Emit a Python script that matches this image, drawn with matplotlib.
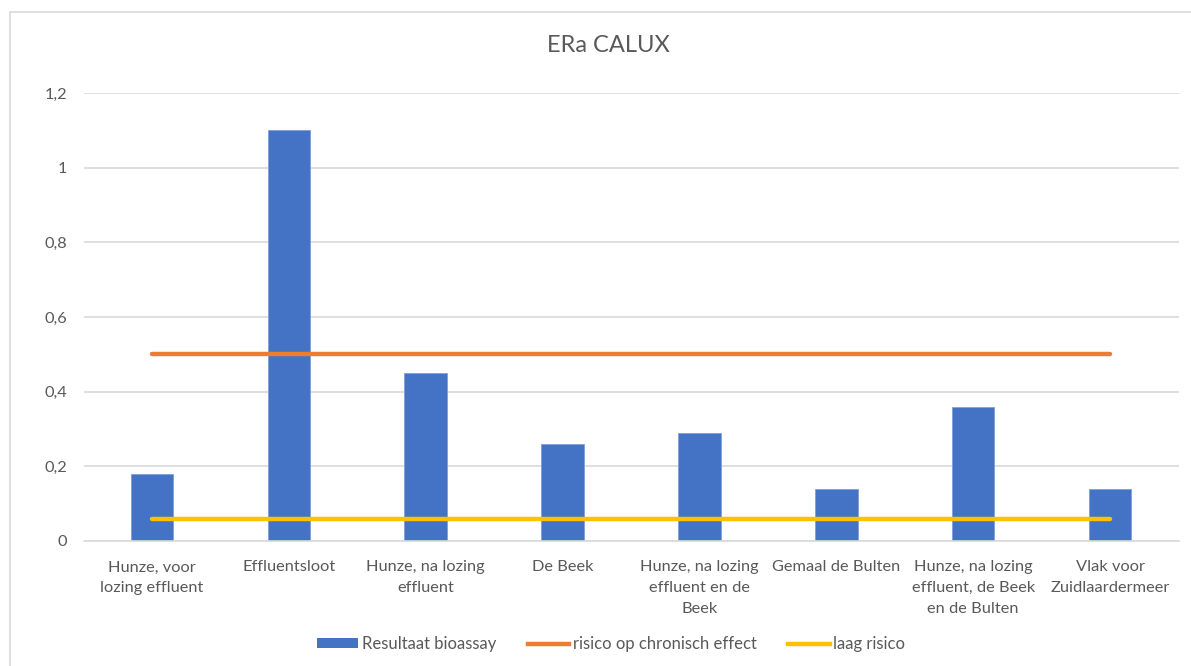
import matplotlib
matplotlib.use("Agg")
import matplotlib.pyplot as plt
from matplotlib.patches import Rectangle
from matplotlib.lines import Line2D
from matplotlib.ticker import FuncFormatter

categories = [
    "Hunze, voor\nlozing effluent",
    "Effluentsloot",
    "Hunze, na lozing\neffluent",
    "De Beek",
    "Hunze, na lozing\neffluent en de\nBeek",
    "Gemaal de Bulten",
    "Hunze, na lozing\neffluent, de Beek\nen de Bulten",
    "Vlak voor\nZuidlaardermeer",
]
bioassay = [0.18, 1.10, 0.45, 0.26, 0.29, 0.14, 0.36, 0.14]
chronisch = [0.5] * 8
laag = [0.06] * 8
yticks = [0, 0.2, 0.4, 0.6, 0.8, 1.0, 1.2]

plt.rcParams['font.family'] = ['Lato', 'DejaVu Sans']

W, H = 1191, 666
fig = plt.figure(figsize=(W / 100, H / 100), dpi=100)
fig.patches.append(Rectangle((10 / W, -0.1), 1.2, 1 - 12 / H + 0.1,
                             transform=fig.transFigure, fill=False,
                             edgecolor="#d9d9d9", linewidth=1.2))

ax = fig.add_axes([83.5 / W, 1 - 541 / H, (1178.5 - 83.5) / W, (541 - 93) / H])
x = list(range(len(categories)))
ax.bar(x, bioassay, width=0.31, color="#4472C4", edgecolor="#7f9fd8",
       linewidth=0.6, zorder=2, label="Resultaat bioassay")
ax.plot(x, chronisch, color="#ED7D31", linewidth=3.2, solid_capstyle="round",
        zorder=3, label="risico op chronisch effect")
ax.plot(x, laag, color="#FFC000", linewidth=3.2, solid_capstyle="round",
        zorder=3, label="laag risico")

ax.set_xlim(-0.5, len(categories) - 0.5)
ax.set_ylim(0, 1.2)
ax.set_yticks(yticks)
ax.yaxis.set_major_formatter(FuncFormatter(
    lambda v, p: ("%g" % round(v, 1)).replace(".", ",")))
ax.grid(axis="y", color="#d9d9d9", linewidth=1.2, zorder=0)
ax.set_axisbelow(True)
for s in ["top", "right", "left"]:
    ax.spines[s].set_visible(False)
ax.spines["bottom"].set_color("#d9d9d9")
ax.spines["bottom"].set_linewidth(1.2)
ax.tick_params(axis="both", length=0, colors="#595959", labelsize=11.8)
ax.tick_params(axis="y", pad=12)
ax.tick_params(axis="x", pad=14)
ax.set_xticks(x)
ax.set_xticklabels(categories, linespacing=1.62)

fig.text(608 / W, 1 - 45 / H, "ERa CALUX",
         ha="center", va="center", fontsize=17, color="#595959")

handles = [
    Rectangle((0, 0), 1, 1, facecolor="#4472C4"),
    Line2D([0], [0], color="#ED7D31", linewidth=3.2),
    Line2D([0], [0], color="#FFC000", linewidth=3.2),
]
labels = ["Resultaat bioassay", "risico op chronisch effect", "laag risico"]
leg = fig.legend(handles, labels, loc="center", bbox_to_anchor=(611 / W, 1 - 644 / H),
                 ncol=3, frameon=False, fontsize=12, handlelength=2.5,
                 handletextpad=0.2, columnspacing=1.9, handleheight=0.55,
                 borderpad=0)
for t in leg.get_texts():
    t.set_color("#595959")

fig.savefig("out.png", dpi=100, facecolor="white")
